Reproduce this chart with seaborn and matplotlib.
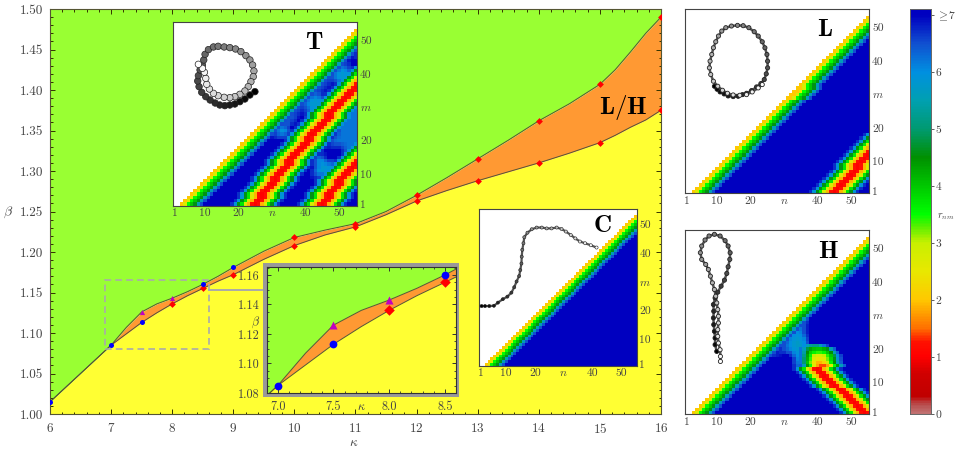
import numpy as np
import seaborn as sns
import matplotlib.pyplot as plt
from matplotlib.colors import LinearSegmentedColormap
from matplotlib.patches import Rectangle
from matplotlib.ticker import MultipleLocator

plt.rc('font', family='cmr10', size=9.5)
plt.rc('mathtext', fontset='cm')
plt.rc('axes', linewidth=0.8, unicode_minus=False)
plt.rc('axes.formatter', use_mathtext=True)

W, H = 959, 458
GREEN, ORANGE, YELLOW = '#99ff33', '#ff9933', '#ffff33'
TEXT = '#444444'

# phase boundaries
kappa_pts = [6, 6.5, 7, 7.25, 7.5, 7.75, 8, 8.25, 8.5, 8.75, 9, 9.5, 10, 10.5, 11, 11.5, 12, 12.5, 13, 13.5, 14, 14.5, 15, 15.25, 15.5, 15.75, 16]
beta_low = [1.015, 1.050, 1.085, 1.099, 1.113, 1.125, 1.136, 1.146, 1.155, 1.164, 1.172, 1.191, 1.208, 1.221, 1.231, 1.246, 1.263, 1.276, 1.288, 1.299, 1.310, 1.322, 1.335, 1.344, 1.354, 1.363, 1.375]
beta_up = [1.015, 1.050, 1.085, 1.107, 1.126, 1.136, 1.143, 1.151, 1.160, 1.170, 1.181, 1.201, 1.218, 1.227, 1.235, 1.250, 1.270, 1.292, 1.315, 1.338, 1.362, 1.383, 1.407, 1.425, 1.447, 1.470, 1.490]

# simulation points
diamond_k = [8, 8.5, 9, 10, 10, 11, 11, 12, 12, 13, 13, 14, 14, 15, 15, 16, 16]
diamond_b = [1.136, 1.155, 1.172, 1.208, 1.218, 1.231, 1.235, 1.263, 1.270, 1.288, 1.315, 1.310, 1.362, 1.335, 1.407, 1.375, 1.490]
circle_k = [6, 7, 7.5, 8.5, 9]
circle_b = [1.015, 1.085, 1.113, 1.160, 1.181]
triangle_k = [7.5, 8]
triangle_b = [1.126, 1.143]

# colour scale for r_nm
R_MAX = 7.1
scale_vals = [0, 0.15, 0.3, 0.7, 1.0, 1.25, 1.5, 2.0, 2.5, 3.0, 3.3, 3.5, 4.0, 4.5, 5.0, 5.5, 6.0, 6.5, 7.0, 7.1]
scale_cols = ['#c07070', '#b85050', '#c00000', '#d00000', '#ff0000', '#ff1000', '#ff7000', '#ffc800', '#e8e800', '#c8f000',
              '#50f000', '#00ff00', '#00c800', '#009000', '#009a70', '#00a0b0', '#0090e0', '#1050d0', '#0000c0', '#0000c0']
rnm_cmap = LinearSegmentedColormap.from_list('rnm', [(v / R_MAX, c) for v, c in zip(scale_vals, scale_cols)])

# distance matrices
N = 55
band_profile = [2.0, 2.7, 3.5, 4.0, 4.6, 5.6, 6.5]
ridge_profile = [1.0, 1.2, 1.9, 2.8, 3.7, 4.6, 5.9, 6.7]

T_ridge_a = [25, 26, 27, 27, 28, 29, 30, 31, 31, 32, 33, 34, 35, 35, 36, 37, 38, 39, 40, 41, 41, 42, 43, 44, 45, 46, 47, 47, 48, 49, 50, 51, 52, 53, 54, 55, 56, 57, 58, 59, 60, 61]
T_ridge_b = [45, 46, 47, 47, 48, 49, 50, 50, 51, 52, 53, 54, 55, 56, 57, 58, 59, 60, 61]
T_soft_near = [(10, 43, 46), (11, 43, 47), (12, 44, 48), (13, 44, 49), (14, 43, 45), (15, 44, 45),
               (22, 31, 35), (22, 39, 46), (23, 32, 34), (23, 40, 47), (24, 33, 34), (24, 40, 47), (25, 34, 34), (25, 41, 48),
               (26, 35, 36), (26, 41, 48), (27, 36, 36), (27, 41, 49), (28, 37, 37), (28, 41, 49), (29, 38, 38), (29, 42, 50),
               (30, 39, 39), (30, 41, 50), (31, 40, 51), (32, 41, 52), (33, 42, 44), (33, 50, 55), (34, 43, 43), (34, 51, 55),
               (35, 44, 44), (35, 51, 55), (36, 45, 45), (36, 51, 55), (37, 46, 46), (37, 51, 55), (38, 47, 47), (38, 50, 55),
               (39, 48, 55), (40, 49, 55), (41, 50, 52), (42, 51, 52), (43, 52, 52), (46, 55, 55)]
T_soft_far = [(14, 52, 55), (15, 53, 55), (16, 52, 55), (17, 52, 55), (18, 52, 55), (19, 47, 55), (20, 48, 55), (21, 49, 55),
              (22, 50, 55), (23, 50, 55), (24, 50, 55), (25, 50, 55), (26, 50, 55), (27, 51, 55), (28, 52, 55), (29, 52, 55),
              (30, 53, 55), (31, 53, 55), (32, 54, 55)]

L_ridge = [45, 46, 47, 48, 49, 50, 51, 52, 52, 53, 54, 55, 56, 57, 58, 59, 60, 61]
L_band_shift = [29, 30, 31, 32]

H_ridge = [54, 53, 52, 51, 50, 49, 48, 47, 45, 44, 43, 42, 41, 40]
H_rows = [(15, 33, [6.7, 6.3, 6.4, 5.6, 4.4, 3.5, 2.6, 1.8, 1.4, 1.4, 1.8, 2.6, 3.5, 4.4, 5.6, 6.4]),
          (16, 33, [6.6, 6.2, 6.2, 5.0, 4.0, 3.2, 2.4, 1.9, 1.9, 2.2, 2.9, 3.6, 4.5, 5.6, 6.4]),
          (17, 33, [6.6, 6.1, 6.2, 5.0, 4.2, 3.4, 2.7, 2.4, 2.4, 2.6, 3.2, 3.8, 4.6, 5.8, 6.5]),
          (18, 27, [6.7, 6.8, 6.9, 7.0, 7.0, 6.7, 6.3, 6.0, 6.2, 5.2, 4.3, 3.6, 3.0, 2.8, 2.8, 3.0, 3.4, 4.0, 4.8, 6.0, 6.6]),
          (19, 28, [6.8, 6.7, 6.7, 6.5, 6.5, 6.1, 5.9, 6.2, 5.4, 4.5, 3.9, 3.6, 3.4, 3.4, 3.6, 4.0, 4.5, 5.5, 6.4]),
          (20, 29, [6.7, 6.5, 6.3, 6.1, 5.9, 5.8, 6.2, 5.6, 4.8, 4.3, 4.1, 4.0, 4.0, 4.2, 4.6, 5.5, 6.4]),
          (21, 30, [6.5, 6.2, 6.0, 5.8, 5.7, 5.7, 6.0, 5.6, 5.3, 5.2, 5.2, 5.6, 6.2, 6.6]),
          (22, 31, [6.3, 6.0, 5.8, 5.7, 5.8, 6.0, 6.5]),
          (23, 32, [6.1, 5.9, 5.8, 5.9, 6.1, 6.6]),
          (24, 33, [6.0, 5.9, 6.0, 6.3, 6.7]),
          (25, 34, [6.0, 6.1, 6.5, 6.8]),
          (26, 35, [6.2, 6.5, 6.8]),
          (27, 36, [6.5, 6.8]),
          (28, 37, [6.7])]

# polymer conformations
T_chain_x = [24.4, 22.9, 21.4, 19.9, 18.4, 16.9, 15.4, 13.9, 12.5, 11.0, 9.7, 8.5, 7.7, 7.3, 7.5, 8.0, 8.7, 9.1, 9.5, 10.5, 12.0, 13.4, 15.2, 16.9, 18.6, 20.2, 21.7, 22.9, 23.7, 24.1, 23.9, 23.2, 22.4, 21.4, 19.9, 18.4, 16.9, 15.2, 13.4, 12.0, 10.8, 10.0, 9.7, 9.3, 8.7, 7.5]
T_chain_y = [34.2, 33.2, 32.0, 31.2, 30.5, 30.2, 30.0, 30.2, 30.8, 31.7, 32.7, 34.0, 35.7, 37.4, 39.0, 40.7, 42.2, 43.7, 45.4, 46.8, 47.6, 47.8, 47.6, 47.4, 47.0, 46.2, 45.0, 43.7, 42.2, 40.4, 38.7, 37.2, 35.7, 34.4, 33.4, 32.7, 32.4, 32.5, 33.0, 33.7, 35.0, 36.4, 38.2, 40.0, 41.2, 42.4]
L_chain_x = [8.7, 9.5, 10.4, 11.6, 12.8, 14.3, 15.8, 17.1, 18.3, 19.8, 21.3, 22.6, 23.6, 24.2, 24.6, 24.6, 24.4, 23.8, 23.0, 21.8, 20.6, 19.0, 17.3, 15.6, 13.8, 12.1, 10.9, 9.9, 9.1, 8.4, 7.9, 7.4, 7.2, 7.6, 8.4, 9.7, 11.1, 12.6, 14.3, 16.3, 18.3, 20.0, 21.8, 23.0]
L_chain_y = [32.0, 31.1, 30.3, 29.7, 29.1, 28.9, 29.0, 29.5, 29.9, 30.7, 31.8, 32.8, 34.0, 35.7, 37.5, 39.5, 41.5, 43.5, 45.3, 47.0, 48.3, 49.5, 50.1, 50.2, 50.0, 49.5, 48.5, 47.0, 45.3, 43.5, 41.5, 39.5, 37.5, 35.5, 33.5, 32.0, 30.8, 29.9, 29.4, 29.3, 29.5, 30.3, 31.5, 32.5]
H_chain_x = [9.4, 8.9, 8.9, 8.7, 8.5, 8.4, 8.5, 8.4, 8.9, 9.7, 10.7, 11.7, 12.4, 12.8, 13.3, 13.4, 12.8, 11.9, 10.4, 8.7, 7.1, 5.9, 4.9, 4.5, 4.9, 6.1, 6.9, 7.5, 8.1, 8.7, 9.1, 9.4, 9.7, 9.9, 9.9, 9.7, 9.7, 9.9, 10.4, 10.5, 10.5]
H_chain_y = [18.8, 20.8, 22.8, 24.8, 26.8, 28.8, 30.8, 32.8, 34.8, 36.5, 38.3, 40.1, 42.1, 44.1, 46.3, 48.3, 50.3, 51.9, 53.3, 53.8, 53.3, 52.1, 50.3, 48.3, 46.3, 44.8, 43.3, 41.3, 39.3, 37.3, 35.3, 33.3, 31.3, 29.3, 27.3, 25.3, 23.3, 21.3, 19.3, 17.3, 15.8]
C_chain_x = [0.9, 2.1, 3.6, 5.2, 6.6, 8.3, 9.9, 11.3, 12.3, 13.1, 14.0, 14.4, 14.8, 14.9, 15.1, 15.5, 15.8, 16.9, 18.4, 20.1, 21.9, 23.6, 25.3, 27.1, 28.8, 30.3, 32.0, 33.6, 35.2, 37.0, 39.0, 41.0]
C_chain_y = [21.0, 21.0, 21.0, 21.1, 22.2, 23.4, 24.3, 25.7, 27.6, 29.6, 31.5, 33.6, 35.9, 38.3, 40.7, 43.0, 45.1, 46.7, 47.9, 48.5, 48.5, 48.2, 48.2, 48.5, 48.0, 47.1, 45.9, 44.7, 43.6, 43.0, 42.3, 41.5]


def px_axes(fig, left, top, right, bottom, **kwargs):
    return fig.add_axes([left / W, 1 - bottom / H, (right - left) / W, (bottom - top) / H], **kwargs)


def base_matrix(shift_rows=()):
    grid = np.full((N, N), np.nan)
    for m in range(1, N + 1):
        for n in range(m + 2, N + 1):
            d = max(n - m - (1 if m in shift_rows else 0), 2)
            grid[m - 1, n - 1] = band_profile[d - 2] if d - 2 < len(band_profile) else 7.0
    return grid


def put(grid, m, n, value):
    if 1 <= n <= N and n > m + 1:
        grid[m - 1, n - 1] = min(grid[m - 1, n - 1], value)


def add_ridge(grid, centres):
    for m, c in enumerate(centres, 1):
        for offset, value in enumerate(ridge_profile):
            put(grid, m, c - offset, value)
            put(grid, m, c + offset, value)


def add_soft(grid, spans, level):
    # light-blue areas, edges softened over one cell
    layer = np.full((N, N), 7.0)
    for m, n0, n1 in spans:
        layer[m - 1, n0 - 1:n1] = level
    padded = np.pad(layer, 1, mode='edge')
    soft = sum(padded[1 + i:N + 1 + i, 1 + j:N + 1 + j] for i in (-1, 0, 1) for j in (-1, 0, 1)) / 9
    grid[:] = np.minimum(grid, soft)


def draw_phases(ax):
    ax.fill_between(kappa_pts, 1.0, beta_low, color=YELLOW, lw=0)
    ax.fill_between(kappa_pts, beta_low, beta_up, color=ORANGE, lw=0)
    ax.fill_between(kappa_pts, beta_up, 1.5, color=GREEN, lw=0)
    sns.lineplot(x=kappa_pts, y=beta_low, color='#555533', lw=0.7, errorbar=None, ax=ax)
    sns.lineplot(x=kappa_pts, y=beta_up, color='#555533', lw=0.7, errorbar=None, ax=ax)


def draw_points(ax, scale=1.0):
    sns.scatterplot(x=diamond_k, y=diamond_b, marker='D', color='red', s=12 * scale, linewidth=0, ax=ax, zorder=3)
    sns.scatterplot(x=triangle_k, y=triangle_b, marker='^', color='#c000c0', s=14 * scale, linewidth=0, ax=ax, zorder=3)
    sns.scatterplot(x=circle_k, y=circle_b, marker='o', color='#0000ff', s=13 * scale, linewidth=0, ax=ax, zorder=4)


def matrix_panel(fig, box, grid, chain_x, chain_y, letter, letter_pos, bead, edge=0.5, line=1.2, **cbar):
    ax = px_axes(fig, *box, zorder=5)
    sns.heatmap(grid, mask=np.isnan(grid), cmap=rnm_cmap, vmin=0, vmax=R_MAX, xticklabels=False, yticklabels=False,
                cbar=bool(cbar), ax=ax, **cbar)
    order = np.arange(len(chain_x))
    ax.plot(chain_x, chain_y, color='#555555', lw=line, zorder=5)
    sns.scatterplot(x=chain_x, y=chain_y, hue=order, palette='gray', hue_norm=(0, len(chain_x) * 0.98), s=bead,
                    edgecolor='#222222', linewidth=edge, legend=False, ax=ax, zorder=6)
    ax.set_xlim(0, N)
    ax.set_ylim(0, N)
    ax.set_xticks([0.5, 9.5, 19.5, 29.5, 39.5, 49.5], ['1', '10', '20', '$n$', '40', '50'], fontsize=8.3, color=TEXT)
    ax.yaxis.tick_right()
    ax.set_yticks([0.5, 9.5, 19.5, 29.5, 39.5, 49.5], ['1', '10', '20', '$m$', '40', '50'], fontsize=8.3, color=TEXT)
    ax.tick_params(length=0, pad=2)
    ax.set(xlabel='', ylabel='')
    for spine in ax.spines.values():
        spine.set_visible(True)
        spine.set_color('#444444')
        spine.set_linewidth(0.8)
    ax.text(*letter_pos, r'$\mathbf{%s}$' % letter, transform=ax.transAxes, fontsize=18, color='black', ha='center', va='center', zorder=7)
    return ax


fig = plt.figure(figsize=(W / 100, H / 100), dpi=100)

# main phase diagram
ax = px_axes(fig, 50, 9, 661, 414)
draw_phases(ax)
draw_points(ax)
ax.set_xlim(6, 16)
ax.set_ylim(1.0, 1.5)
ax.xaxis.set_major_locator(MultipleLocator(1))
ax.xaxis.set_minor_locator(MultipleLocator(0.2))
ax.yaxis.set_minor_locator(MultipleLocator(0.01))
ax.set_yticks(np.arange(1.0, 1.501, 0.05), [f'{v:.2f}' for v in np.arange(1.0, 1.501, 0.05)])
ax.tick_params(which='both', direction='in', top=True, right=True, colors='#333300', labelcolor=TEXT)
ax.tick_params(which='major', length=3.5, width=0.7, pad=5)
ax.tick_params(which='minor', length=1.8, width=0.7)
ax.tick_params(axis='x', which='major', pad=6)
for spine in ax.spines.values():
    spine.set_color('#555533')
ax.add_patch(Rectangle((6.9, 1.08), 1.7, 0.0854, fill=False, ec='#aaaaaa', lw=1.2, ls=(0, (4, 2.5)), zorder=5))
ax.plot([8.6, 9.5], [1.153, 1.153], color='#aaaaaa', lw=1.4, zorder=5)
ax.text(15.38, 1.378, r'$\mathbf{L/H}$', fontsize=18, color='black', ha='center', va='center', zorder=6)
fig.text(354 / W, 1 - 443 / H, r'$\kappa$', fontsize=9.5, color=TEXT, ha='center', va='center')
fig.text(8 / W, 1 - 212 / H, r'$\beta$', fontsize=10, color=TEXT, ha='center', va='center')

# zoomed window on the low-kappa end
frame = px_axes(fig, 263, 263, 459, 396.5, zorder=3, facecolor='#999999', xticks=[], yticks=[])
for spine in frame.spines.values():
    spine.set_visible(False)
sub = px_axes(fig, 267, 267, 456, 393, zorder=4)
draw_phases(sub)
draw_points(sub, scale=2.4)
sub.set_xlim(6.904, 8.6)
sub.set_ylim(1.08, 1.1654)
sub.set_xticks([7.0, 7.5, 7.75, 8.0, 8.5], ['7.0', '7.5', r'$\kappa$', '8.0', '8.5'], fontsize=8.8, color=TEXT)
sub.set_yticks([1.08, 1.10, 1.12, 1.13, 1.14, 1.16], ['1.08', '1.10', '1.12', r'$\beta$', '1.14', '1.16'], fontsize=8.8, color=TEXT)
sub.xaxis.set_minor_locator(MultipleLocator(0.1))
sub.yaxis.set_minor_locator(MultipleLocator(0.005))
sub.tick_params(which='both', direction='in', top=True, right=True, colors='#333333', labelcolor=TEXT)
sub.tick_params(which='major', length=2.8, width=0.7, pad=5.5)
sub.tick_params(which='minor', length=1.4, width=0.6)
sub.tick_params(axis='y', which='major', pad=5)
for ticks, idx in ((sub.xaxis.get_major_ticks(), 2), (sub.yaxis.get_major_ticks(), 3)):
    ticks[idx].tick1line.set_visible(False)
    ticks[idx].tick2line.set_visible(False)
for spine in sub.spines.values():
    spine.set_color('#333333')

# contact maps
T_grid = base_matrix()
add_soft(T_grid, T_soft_near, 5.8)
add_soft(T_grid, T_soft_far, 6.2)
add_ridge(T_grid, T_ridge_a)
add_ridge(T_grid, T_ridge_b)
matrix_panel(fig, (173.3, 22.3, 357.3, 205.7), T_grid, T_chain_x, T_chain_y, 'T', (0.765, 0.887), 22, line=2.5)

C_grid = base_matrix()
matrix_panel(fig, (479, 209, 636.7, 366), C_grid, C_chain_x, C_chain_y, 'C', (0.78, 0.892), 5, edge=0.4, line=1.6)

L_grid = base_matrix(L_band_shift)
add_ridge(L_grid, L_ridge)
cbar_ax = px_axes(fig, 910, 9, 931, 414)
matrix_panel(fig, (685.3, 9.3, 869.3, 193.3), L_grid, L_chain_x, L_chain_y, 'L', (0.76, 0.888), 9, edge=0.6, line=1.8,
             cbar_ax=cbar_ax)

H_grid = base_matrix()
add_ridge(H_grid, H_ridge)
for m, start, values in H_rows:
    for n, value in enumerate(values, start):
        put(H_grid, m, n, value)
matrix_panel(fig, (685.3, 230.3, 869.3, 414.3), H_grid, H_chain_x, H_chain_y, 'H', (0.775, 0.882), 9, edge=0.6, line=1.8)

cbar_ax.yaxis.tick_right()
cbar_ax.set_yticks(range(8), ['0', '1', '2', '3', '4', '5', '6', r'$\geq 7$'], fontsize=8.3, color=TEXT)
cbar_ax.tick_params(length=2, width=0.6, pad=1.5, colors=TEXT)
for spine in cbar_ax.spines.values():
    spine.set_visible(True)
    spine.set_color('#666666')
    spine.set_linewidth(0.6)
fig.text(946 / W, 1 - 217 / H, r'$r_{nm}$', fontsize=7.5, color=TEXT, ha='center', va='center')

fig.savefig('out.png', dpi=100)
